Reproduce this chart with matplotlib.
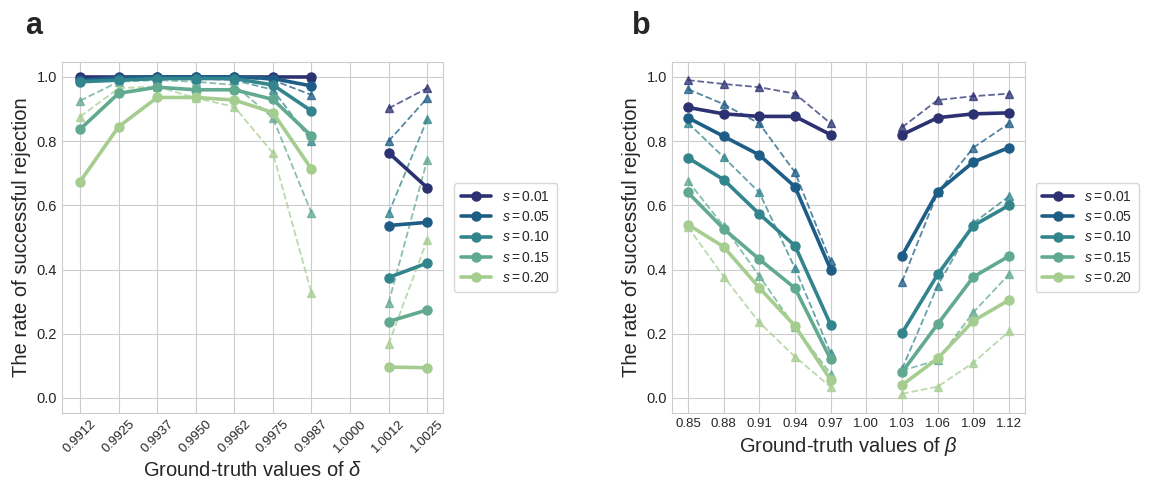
import numpy as np
import matplotlib.pyplot as plt
import seaborn as sns

sns.set_style("whitegrid")
plt.rcParams['font.family'] = ['Liberation Sans', 'DejaVu Sans']
plt.rcParams['mathtext.fontset'] = 'custom'
plt.rcParams['mathtext.rm'] = 'Liberation Sans'
plt.rcParams['mathtext.it'] = 'Liberation Sans:italic'

s_labels = ['$s = 0.01$', '$s = 0.05$', '$s = 0.10$', '$s = 0.15$', '$s = 0.20$']

# panel a: delta
delta_ticks = ['0.9912', '0.9925', '0.9937', '0.9950', '0.9962', '0.9975', '0.9987', '1.0000', '1.0012', '1.0025']
delta_lo = [0, 1, 2, 3, 4, 5, 6]
delta_hi = [8, 9]

a_solid_lo = [
    [1.0, 1.0, 1.0, 1.0, 1.0, 1.0, 1.0],
    [0.99, 0.998, 1.0, 1.0, 1.0, 0.995, 0.972],
    [0.985, 0.99, 0.995, 0.995, 0.995, 0.975, 0.894],
    [0.837, 0.949, 0.968, 0.96, 0.96, 0.93, 0.816],
    [0.674, 0.845, 0.936, 0.936, 0.928, 0.889, 0.713],
]
a_solid_hi = [
    [0.764, 0.655],
    [0.537, 0.547],
    [0.375, 0.42],
    [0.238, 0.274],
    [0.096, 0.094],
]
a_dash_lo = [
    [1.0, 1.0, 1.0, 1.0, 1.0, 1.0, 1.0],
    [0.998, 1.0, 1.0, 1.0, 1.0, 0.99, 0.944],
    [0.99, 0.995, 0.998, 0.995, 0.99, 0.96, 0.80],
    [0.926, 0.985, 0.99, 0.985, 0.975, 0.872, 0.576],
    [0.876, 0.965, 0.97, 0.934, 0.907, 0.763, 0.327],
]
a_dash_hi = [
    [0.902, 0.965],
    [0.80, 0.934],
    [0.575, 0.868],
    [0.296, 0.741],
    [0.168, 0.492],
]

# panel b: beta
beta_ticks = [0.85, 0.88, 0.91, 0.94, 0.97, 1.00, 1.03, 1.06, 1.09, 1.12]
beta_lo = [0.85, 0.88, 0.91, 0.94, 0.97]
beta_hi = [1.03, 1.06, 1.09, 1.12]

b_solid_lo = [
    [0.905, 0.885, 0.877, 0.877, 0.82],
    [0.873, 0.815, 0.757, 0.658, 0.40],
    [0.748, 0.68, 0.573, 0.474, 0.228],
    [0.64, 0.527, 0.432, 0.342, 0.12],
    [0.54, 0.471, 0.343, 0.224, 0.056],
]
b_solid_hi = [
    [0.82, 0.873, 0.885, 0.888],
    [0.443, 0.643, 0.735, 0.78],
    [0.202, 0.385, 0.537, 0.60],
    [0.08, 0.23, 0.377, 0.442],
    [0.04, 0.123, 0.24, 0.305],
]
b_dash_lo = [
    [0.99, 0.978, 0.968, 0.948, 0.855],
    [0.962, 0.915, 0.855, 0.703, 0.425],
    [0.857, 0.75, 0.64, 0.404, 0.14],
    [0.676, 0.535, 0.38, 0.22, 0.075],
    [0.533, 0.378, 0.235, 0.128, 0.034],
]
b_dash_hi = [
    [0.843, 0.928, 0.94, 0.948],
    [0.362, 0.64, 0.78, 0.855],
    [0.09, 0.35, 0.545, 0.628],
    [0.085, 0.118, 0.267, 0.385],
    [0.013, 0.035, 0.11, 0.207],
]

# full range of the crest map, dark -> light
crest = sns.color_palette("crest", as_cmap=True)
colors = [crest(v) for v in np.linspace(1, 0, 5)]

fig = plt.figure(figsize=(11.56, 4.87), dpi=100)
ax1 = fig.add_axes([0.0536, 0.152, 0.3296, 0.721])
ax2 = fig.add_axes([0.5813, 0.152, 0.3054, 0.721])


def draw(ax, x_lo, x_hi, solid_lo, solid_hi, dash_lo, dash_hi):
    for i in range(5):
        c = colors[i]
        ax.plot(x_lo, dash_lo[i], '--^', color=c, lw=1.3, ms=6, alpha=0.75)
        ax.plot(x_hi, dash_hi[i], '--^', color=c, lw=1.3, ms=6, alpha=0.75)
    for i in range(5):
        c = colors[i]
        ax.plot(x_lo, solid_lo[i], '-o', color=c, lw=2.6, ms=6.5, label=s_labels[i])
        ax.plot(x_hi, solid_hi[i], '-o', color=c, lw=2.6, ms=6.5)
    ax.set_ylim(-0.047, 1.047)
    ax.set_yticks([0.0, 0.2, 0.4, 0.6, 0.8, 1.0])
    ax.set_yticklabels(['0.0', '0.2', '0.4', '0.6', '0.8', '1.0'], fontsize=10.5)
    ax.set_ylabel('The rate of successful rejection', fontsize=14.5)
    for sp in ax.spines.values():
        sp.set_color('#cccccc')
    ax.tick_params(length=0)
    ax.legend(loc='center left', bbox_to_anchor=(1.01, 0.5), fontsize=10,
              handlelength=2.2, labelspacing=0.45, borderpad=0.5, frameon=True)


draw(ax1, delta_lo, delta_hi, a_solid_lo, a_solid_hi, a_dash_lo, a_dash_hi)
ax1.set_xticks(range(len(delta_ticks)))
ax1.set_xticklabels(delta_ticks, rotation=45, fontsize=9.5)
ax1.set_xlim(-0.47, 9.41)
ax1.set_xlabel('Ground-truth values of $\\delta$', fontsize=14.5)

draw(ax2, beta_lo, beta_hi, b_solid_lo, b_solid_hi, b_dash_lo, b_dash_hi)
ax2.set_xticks(beta_ticks)
ax2.set_xticklabels(['%.2f' % b for b in beta_ticks], fontsize=9.5)
ax2.set_xlim(0.8366, 1.1334)
ax2.set_xlabel('Ground-truth values of $\\beta$', fontsize=14.5)

fig.text(0.022, 0.93, 'a', fontsize=22, fontweight='bold')
fig.text(0.547, 0.93, 'b', fontsize=22, fontweight='bold')

plt.savefig('out.png', dpi=100)
